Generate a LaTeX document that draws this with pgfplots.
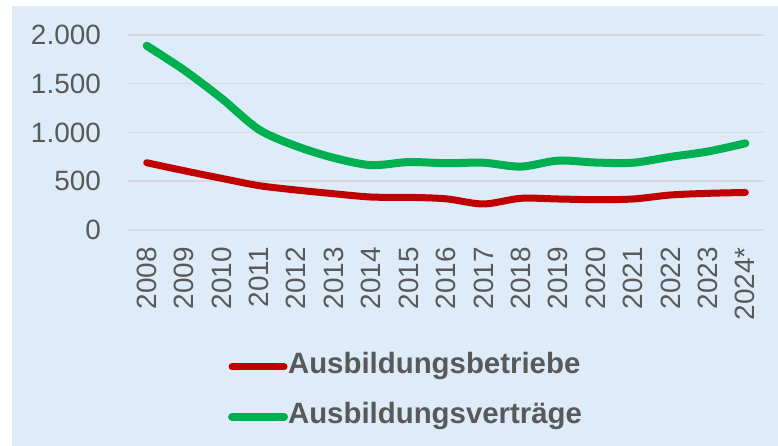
\documentclass[border=0pt]{standalone}
\usepackage{fontspec}
\setmainfont{Liberation Sans}
\usepackage{pgfplots}
\pgfplotsset{compat=1.18}
\definecolor{bgblue}{HTML}{DEEBF8}
\definecolor{gridgray}{HTML}{D9D9D9}
\definecolor{txtgray}{HTML}{595959}
\definecolor{lred}{HTML}{C00000}
\definecolor{lgreen}{HTML}{00B050}
\begin{document}
\begin{tikzpicture}
\path[use as bounding box] (0,0) rectangle (778bp,446bp);
\fill[bgblue] (12bp,0) rectangle (778bp,440bp);
\begin{axis}[
  at={(128bp,216bp)}, anchor=south west,
  scale only axis, width=636bp, height=195bp,
  xmin=-0.5, xmax=16.5, ymin=0, ymax=2000,
  xtick={0,...,16},
  xticklabels={2008,2009,2010,2011,2012,2013,2014,2015,2016,2017,2018,2019,2020,2021,2022,2023,2024*},
  ytick={0,500,1000,1500,2000},
  axis line style={draw=none},
  major tick length=0pt,
  ymajorgrids, grid style={gridgray, line width=1.5bp},
  tick label style={font=\fontsize{28}{33}\selectfont, text=txtgray},
  xticklabel shift=17bp,
  xticklabel style={rotate=90, anchor=east, inner sep=0pt},
  yticklabel style={anchor=east, inner sep=0pt, xshift=-27bp},
  /pgf/number format/.cd, 1000 sep={.}, assume math mode=true,
  /pgfplots/.cd,
  legend style={draw=none, fill=none, at={(0.157,-0.83)}, anchor=west,
    inner sep=0pt, row sep=24bp, column sep=0bp,
    font=\fontsize{29.5}{34}\selectfont\bfseries, text=txtgray,
    nodes={inner sep=0pt, text height=20bp, text depth=6bp},
    cells={anchor=west}},
  legend image code/.code={\draw[#1, line cap=round] (0bp,0bp) -- (52bp,0bp);},
]
\addplot[lred, line width=7bp, smooth, line cap=round, line join=round] coordinates {
(0,690) (1,608) (2,530) (3,455) (4,410) (5,372) (6,338) (7,335) (8,320) (9,267) (10,325) (11,318) (12,311) (13,318) (14,359) (15,376) (16,385)};
\addlegendentry{Ausbildungsbetriebe}
\addplot[lgreen, line width=8bp, smooth, line cap=round, line join=round] coordinates {
(0,1890) (1,1640) (2,1350) (3,1030) (4,860) (5,740) (6,665) (7,697) (8,685) (9,690) (10,650) (11,712) (12,692) (13,690) (14,750) (15,805) (16,889)};
\addlegendentry{Ausbildungsverträge}
\end{axis}
\end{tikzpicture}
\end{document}
